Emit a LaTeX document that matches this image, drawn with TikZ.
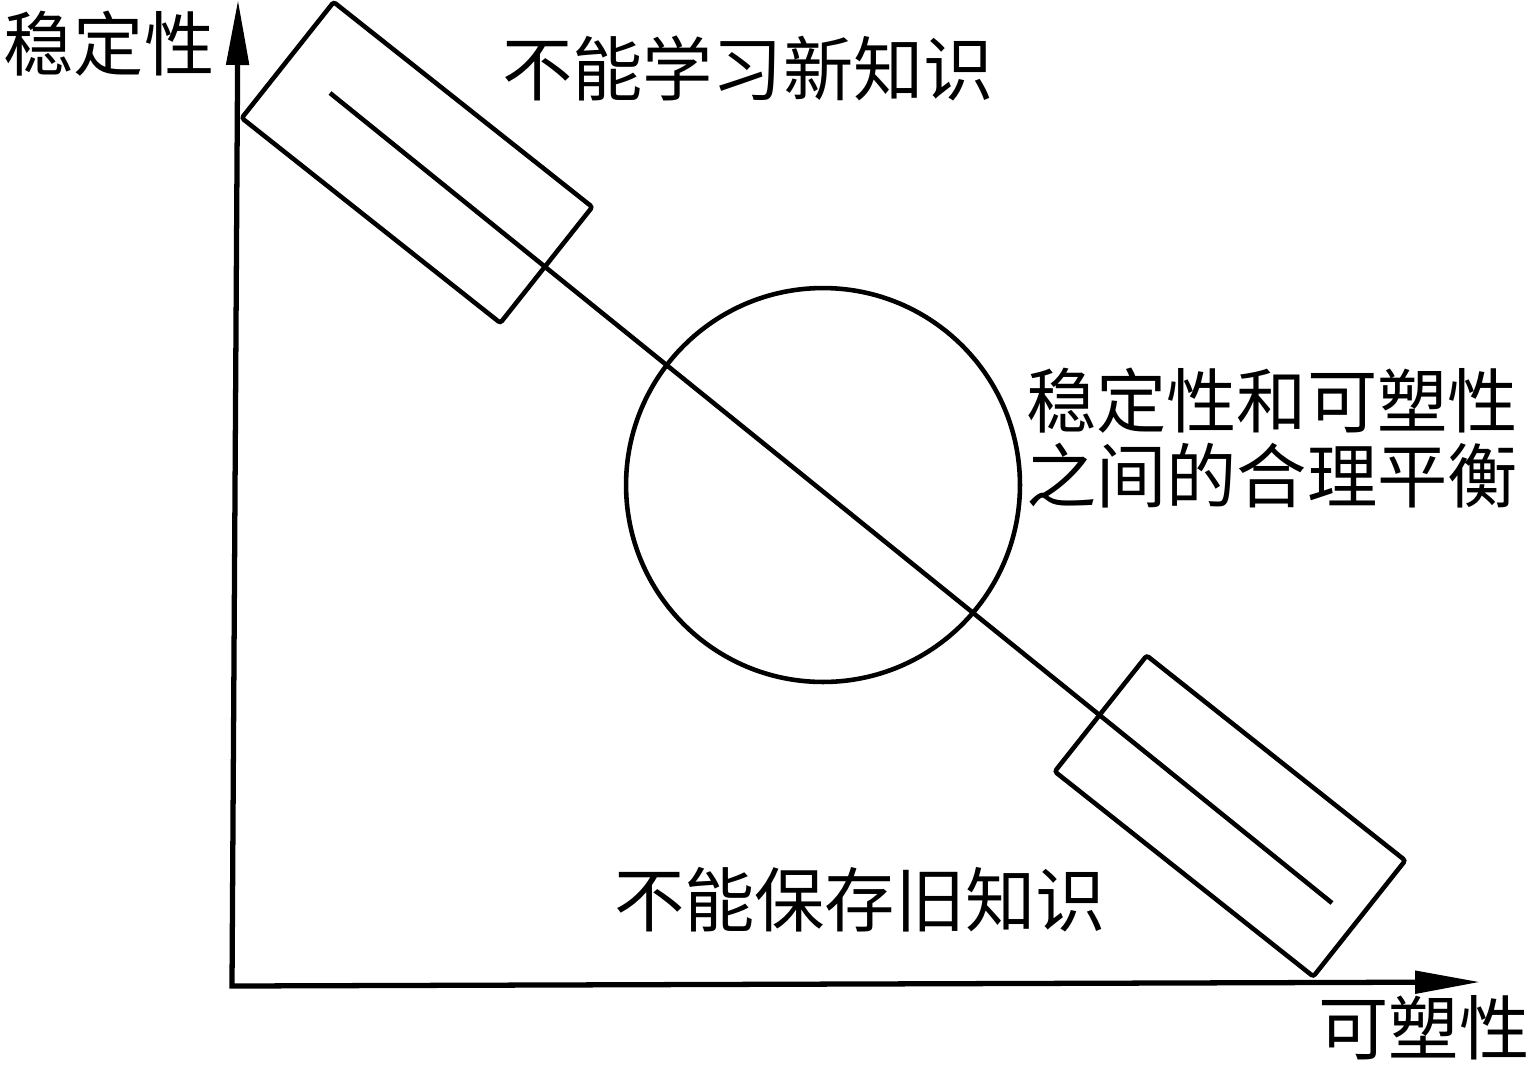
\documentclass[tikz,border=0pt]{standalone}
\usepackage{fontspec}
\setmainfont{Noto Sans CJK SC}
\usepackage{tikz}
\usetikzlibrary{positioning,arrows.meta}
\tikzset{
  lbl/.style={font=\fontsize{40}{43}\selectfont, text=black, inner sep=0pt, align=center},
}

\begin{document}
\begin{tikzpicture}[x=0.02cm, y=-0.02cm,
  axis/.style={line width=3pt, {Triangle[length=13mm, width=4.4mm]}-{Triangle[length=13mm, width=4.4mm]}},
  band/.style={rectangle, draw, line width=2.6pt, rounded corners=1.5pt, minimum width=6.6cm, minimum height=2.96cm, rotate=-38.4},
  ring/.style={circle, draw, line width=2.6pt, minimum size=7.88cm},
  thin/.style={line width=2.6pt}]
\useasboundingbox (0,0) rectangle (1533,1069);
\coordinate (o) at (232,986);
\coordinate (ytip) at (238,0);
\coordinate (xtip) at (1480,982);
\draw[axis] (ytip) -- (o) -- (xtip);
\node[lbl] (ylab) at (109,44) {稳定性};
\node[lbl] (xlab) at (1424,1028) {可塑性};
\node[band] (old) at (417,162.5) {};
\node[band] (new) at (1230,816) {};
\node[ring] (bal) at (823,485) {};
\coordinate (s) at (330,93);
\coordinate (e) at (1332,903);
\draw[thin] (s) -- (e);
\node[lbl] (t1) at (748,68) {不能学习新知识};
\node[lbl] (t2) at (1272,438) {稳定性和可塑性\\之间的合理平衡};
\node[lbl] (t3) at (860,900) {不能保存旧知识};
\end{tikzpicture}
\end{document}
